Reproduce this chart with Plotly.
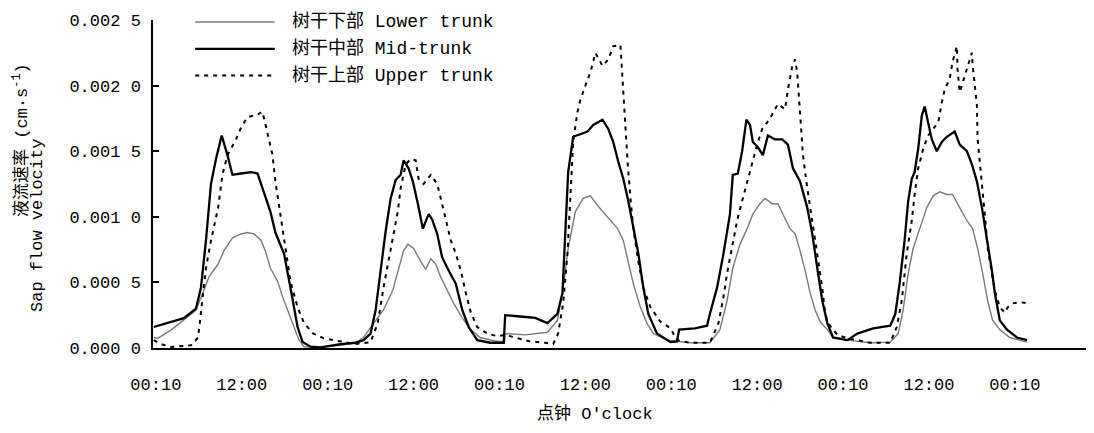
import plotly.graph_objects as go

# ---- data (time in hours from first 00:10; sap flow velocity in cm/s) ----
series_names = ["树干下部 Lower trunk", "树干中部 Mid-trunk", "树干上部 Upper trunk"]

lower_t = [-0.3, 0.3, 2.1, 3.9, 5.6, 6.7, 7.4, 8.7, 9.5, 10.7, 11.9, 12.8, 13.7, 14.7, 15.3, 16.0, 17.0, 17.7, 18.6, 19.3,
           20.0, 20.7, 23.0, 25.8, 27.9,
           29.0, 30.4, 31.8, 33.1, 33.9, 34.6, 35.2, 36.0, 37.0, 37.7, 38.4, 39.1, 39.8, 40.7, 41.6, 42.8, 44.0, 45.3, 47.7, 48.7,
           48.8, 51.6, 53.7, 54.7,
           56.1, 56.9, 57.6, 58.6, 59.7, 60.7, 61.8, 63.2, 64.5, 65.3, 66.0, 66.7, 67.7, 68.6, 69.5, 71.4, 74.6, 77.4,
           78.8, 79.8, 80.6, 81.6, 82.6, 83.4, 84.4, 85.1, 86.1, 86.9, 87.6, 88.6, 89.3, 90.0, 90.7, 91.4, 92.1, 92.8, 93.8, 94.6,
           96.6, 99.8, 102.6,
           103.7, 104.4, 105.1, 105.8, 106.7, 107.7, 108.6, 109.5, 110.5, 111.3, 112.3, 113.3, 114.1, 114.8, 115.5, 116.2, 116.9,
           117.9, 119.3, 121.7]
lower_v = [0.8e-4, 0.75e-4, 1.36e-4, 2.1e-4, 2.87e-4, 4.4e-4, 5.4e-4, 6.4e-4, 7.4e-4, 8.4e-4, 8.7e-4, 8.8e-4, 8.7e-4, 8.2e-4,
           7.4e-4, 6.1e-4, 5.1e-4, 3.9e-4, 2.6e-4, 1.6e-4, 0.6e-4, 0.1e-4, 0.05e-4, 0.2e-4, 0.4e-4,
           0.8e-4, 1.9e-4, 2.9e-4, 4.4e-4, 5.9e-4, 7.4e-4, 7.9e-4, 7.6e-4, 6.6e-4, 6.0e-4, 6.8e-4, 6.4e-4, 5.4e-4, 4.4e-4,
           3.4e-4, 2.3e-4, 1.4e-4, 0.8e-4, 0.5e-4, 0.5e-4, 1.1e-4, 1.0e-4, 1.1e-4, 1.2e-4,
           2.1e-4, 4.6e-4, 7.6e-4, 10.4e-4, 11.4e-4, 11.6e-4, 10.8e-4, 9.9e-4, 9.1e-4, 8.2e-4, 6.6e-4, 4.9e-4, 3.1e-4, 1.9e-4,
           1.1e-4, 0.6e-4, 0.4e-4, 0.4e-4,
           1.4e-4, 3.6e-4, 6.1e-4, 7.9e-4, 9.1e-4, 10.2e-4, 11.0e-4, 11.4e-4, 11.0e-4, 11.0e-4, 10.2e-4, 9.1e-4, 8.7e-4, 7.4e-4,
           5.9e-4, 4.2e-4, 2.9e-4, 2.0e-4, 1.4e-4, 0.8e-4, 0.6e-4, 0.4e-4, 0.45e-4,
           1.1e-4, 2.9e-4, 5.7e-4, 7.6e-4, 9.1e-4, 10.7e-4, 11.6e-4, 11.9e-4, 11.7e-4, 11.7e-4, 10.7e-4, 9.7e-4, 9.1e-4, 7.6e-4,
           5.7e-4, 3.6e-4, 2.1e-4, 1.4e-4, 0.8e-4, 0.45e-4]

mid_t = [-0.3, 2.1, 3.9, 5.6, 6.3, 7.0, 7.7, 8.4, 9.2, 10.0, 10.7, 11.9, 13.3, 14.2, 15.1, 16.0, 16.7, 17.9, 18.8, 19.8,
         20.5, 21.6, 23.0, 25.8, 27.9, 29.0,
         30.0, 30.7, 31.4, 32.1, 32.8, 33.5, 34.2, 34.6, 35.3, 35.9, 36.6, 37.3, 38.1, 38.6, 39.3, 40.0, 40.9, 41.9, 42.8, 43.7,
         44.9, 46.7, 48.6, 48.8, 50.9, 53.0, 54.7,
         56.1, 56.8, 57.2, 57.6, 58.3, 59.3, 60.3, 61.1, 62.4, 63.2, 63.9, 64.6, 65.3, 66.0, 66.7, 67.4, 68.1, 68.8, 70.0, 71.9,
         72.8, 73.1, 75.3, 77.0,
         77.4, 78.4, 79.3, 80.2, 80.6, 81.3, 81.9, 82.5, 83.0, 83.4, 84.1, 84.8, 85.5, 86.5, 87.5, 88.3, 89.0, 90.0, 91.0, 91.7,
         92.4, 93.1, 93.8, 94.6, 96.6, 98.0, 100.2, 102.6,
         103.3, 103.9, 104.6, 105.1, 105.6, 106.0, 106.5, 107.0, 107.4, 107.9, 108.4, 109.1, 109.8, 110.5, 111.6, 112.3, 113.3,
         114.0, 114.7, 115.4, 116.1, 116.8, 117.2, 117.9, 118.9, 120.3, 121.7]
mid_v = [1.6e-4, 1.96e-4, 2.27e-4, 3.0e-4, 4.6e-4, 8.2e-4, 12.5e-4, 14.4e-4, 16.2e-4, 14.7e-4, 13.2e-4, 13.3e-4, 13.4e-4,
         13.3e-4, 11.9e-4, 10.4e-4, 8.8e-4, 7.2e-4, 4.6e-4, 1.6e-4, 0.45e-4, 0.1e-4, 0.05e-4, 0.3e-4, 0.4e-4, 0.6e-4,
         1.1e-4, 2.9e-4, 5.9e-4, 8.9e-4, 11.4e-4, 12.8e-4, 13.2e-4, 14.3e-4, 13.7e-4, 12.7e-4, 11.0e-4, 9.1e-4, 10.2e-4,
         9.8e-4, 8.7e-4, 6.9e-4, 5.9e-4, 4.9e-4, 2.9e-4, 1.6e-4, 0.6e-4, 0.4e-4, 0.4e-4, 2.5e-4, 2.4e-4, 2.3e-4, 1.9e-4,
         2.6e-4, 4.2e-4, 8.4e-4, 13.4e-4, 16.1e-4, 16.3e-4, 16.5e-4, 17.0e-4, 17.4e-4, 16.7e-4, 15.7e-4, 14.2e-4, 12.9e-4,
         11.2e-4, 9.1e-4, 7.2e-4, 4.6e-4, 2.6e-4, 1.1e-4, 0.45e-4, 0.5e-4, 1.4e-4, 1.5e-4, 1.7e-4,
         2.6e-4, 4.6e-4, 7.2e-4, 10.2e-4, 13.2e-4, 13.3e-4, 15.0e-4, 17.4e-4, 17.0e-4, 15.7e-4, 15.3e-4, 14.7e-4, 16.2e-4,
         15.9e-4, 15.9e-4, 15.5e-4, 13.7e-4, 12.7e-4, 10.7e-4, 8.7e-4, 6.1e-4, 3.6e-4, 1.9e-4, 0.8e-4, 0.6e-4, 1.1e-4,
         1.5e-4, 1.7e-4,
         2.6e-4, 4.9e-4, 8.2e-4, 11.2e-4, 12.9e-4, 13.4e-4, 15.2e-4, 17.7e-4, 18.4e-4, 17.2e-4, 15.9e-4, 15.0e-4, 15.7e-4,
         16.1e-4, 16.5e-4, 15.5e-4, 15.0e-4, 14.0e-4, 12.7e-4, 10.7e-4, 8.4e-4, 5.9e-4, 4.2e-4, 2.1e-4, 1.4e-4, 0.8e-4,
         0.6e-4]

upper_t = [-0.3, 0.7, 2.1, 4.9, 5.9, 6.3, 7.0, 7.7, 8.7, 9.3, 10.0, 11.2, 11.9, 12.8, 14.2, 14.9, 15.3, 16.3, 16.7, 17.4,
           18.1, 18.8, 19.8, 20.7, 22.0, 23.4, 24.8, 26.2, 27.9,
           30.0, 31.0, 31.8, 32.8, 33.8, 34.2, 34.9, 35.6, 36.3, 36.7, 37.4, 38.4, 39.3, 39.8, 40.5, 41.2, 41.9, 42.6, 43.3,
           44.0, 44.9, 46.3, 47.7, 48.8, 50.2, 52.3, 54.4, 55.5,
           56.2, 56.9, 57.5, 57.9, 58.3, 58.9, 59.3, 60.0, 60.7, 61.4, 62.4, 63.2, 63.9, 64.9, 65.2, 65.6, 65.9, 66.3, 66.7,
           67.4, 68.1, 69.1, 70.5, 71.9, 72.8, 74.6, 77.4,
           78.6, 79.3, 79.8, 80.5, 81.2, 81.9, 82.6, 83.3, 84.0, 84.7, 85.4, 86.1, 86.9, 87.9, 88.3, 88.9, 89.3, 89.6, 90.0,
           90.4, 91.0, 91.7, 92.4, 93.1, 93.5, 93.9, 95.2, 96.6, 99.8, 102.6,
           103.5, 104.2, 104.9, 105.6, 106.0, 106.5, 107.2, 107.9, 108.6, 109.3, 109.8, 110.2, 110.9, 111.3, 111.9, 112.0,
           112.3, 112.7, 113.3, 114.0, 114.1, 114.7, 114.8, 115.4, 115.8, 116.2, 116.8, 117.2, 117.9, 118.6, 119.0, 119.7,
           120.7, 121.8]
upper_v = [0.6e-4, 0.3e-4, 0.08e-4, 0.2e-4, 0.8e-4, 2.6e-4, 6.1e-4, 8.2e-4, 10.7e-4, 13.2e-4, 14.7e-4, 15.9e-4, 16.8e-4,
           17.6e-4, 17.8e-4, 18.0e-4, 17.1e-4, 14.7e-4, 12.7e-4, 10.2e-4, 7.4e-4, 5.1e-4, 3.1e-4, 1.9e-4, 1.1e-4, 0.75e-4,
           0.6e-4, 0.45e-4, 0.3e-4,
           0.45e-4, 1.9e-4, 4.6e-4, 7.4e-4, 10.4e-4, 12.2e-4, 14.0e-4, 14.4e-4, 14.3e-4, 12.9e-4, 12.5e-4, 13.2e-4, 12.5e-4,
           11.4e-4, 9.7e-4, 8.2e-4, 7.2e-4, 5.9e-4, 4.2e-4, 2.7e-4, 1.6e-4, 1.1e-4, 0.9e-4, 1.0e-4, 0.8e-4, 0.5e-4, 0.4e-4,
           0.3e-4,
           1.1e-4, 3.4e-4, 7.2e-4, 11.7e-4, 15.7e-4, 18.0e-4, 18.9e-4, 20.0e-4, 21.0e-4, 22.5e-4, 21.5e-4, 22.0e-4, 23.0e-4,
           23.1e-4, 20.2e-4, 17.2e-4, 14.2e-4, 11.4e-4, 9.1e-4, 6.6e-4, 4.6e-4, 3.1e-4, 2.0e-4, 1.5e-4, 0.6e-4, 0.4e-4,
           0.4e-4,
           1.9e-4, 3.9e-4, 5.7e-4, 7.6e-4, 9.7e-4, 11.2e-4, 12.7e-4, 14.2e-4, 15.5e-4, 16.7e-4, 17.2e-4, 17.8e-4, 18.6e-4,
           18.2e-4, 19.7e-4, 21.5e-4, 22.0e-4, 21.0e-4, 17.7e-4, 14.7e-4, 12.2e-4, 9.7e-4, 7.2e-4, 4.6e-4, 2.6e-4, 1.9e-4,
           1.0e-4, 0.75e-4, 0.4e-4, 0.4e-4,
           1.6e-4, 3.6e-4, 7.2e-4, 9.7e-4, 11.7e-4, 13.7e-4, 15.2e-4, 16.2e-4, 16.7e-4, 17.2e-4, 18.7e-4, 19.7e-4, 20.5e-4,
           21.8e-4, 23.0e-4, 21.2e-4, 19.5e-4, 20.2e-4, 21.2e-4, 22.5e-4, 21.6e-4, 18.5e-4, 15.9e-4, 12.7e-4, 10.2e-4,
           7.6e-4, 5.7e-4, 4.4e-4, 3.1e-4, 2.7e-4, 3.1e-4, 3.4e-4, 3.5e-4, 3.4e-4]

x_tickvals = [0, 12, 24, 36, 48, 60, 72, 84, 96, 108, 120]
x_ticktext = ["00:10", "12:00", "00:10", "12:00", "00:10", "12:00", "00:10", "12:00", "00:10", "12:00", "00:10"]
y_tickvals = [0, 0.0005, 0.0010, 0.0015, 0.0020, 0.0025]
y_ticktext = ["0.000 0", "0.000 5", "0.001 0", "0.001 5", "0.002 0", "0.002 5"]

MONO = "Liberation Mono, Noto Sans CJK SC, monospace"

styles = [
    dict(color="#7a7a7a", width=1.4, dash="solid"),
    dict(color="#000000", width=2.3, dash="solid"),
    dict(color="#000000", width=2.0, dash="4px,5px"),
]

fig = go.Figure()
for name, xs, ys, st in zip(series_names, [lower_t, mid_t, upper_t], [lower_v, mid_v, upper_v], styles):
    fig.add_trace(go.Scatter(x=xs, y=ys, mode="lines", name=name, line=st, showlegend=False))

# legend drawn with long line samples as in the reference
leg_y = [0.994, 0.912, 0.831]
for name, st, yy in zip(series_names, styles, leg_y):
    fig.add_shape(type="line", xref="paper", yref="paper", x0=0.045, x1=0.130, y0=yy, y1=yy,
                  line=dict(color=st["color"], width=st["width"], dash=st["dash"]))
    fig.add_annotation(xref="paper", yref="paper", x=0.146, y=yy, text=name, showarrow=False,
                       xanchor="left", yanchor="middle", font=dict(family=MONO, size=18, color="black"))

# axis titles
fig.add_annotation(xref="paper", yref="paper", x=-0.141, y=0.634, text="液流速率 (cm·s<sup>-1</sup>)",
                   textangle=-90, showarrow=False, xanchor="center", yanchor="middle",
                   font=dict(family=MONO, size=17, color="black"))
fig.add_annotation(xref="paper", yref="paper", x=-0.1227, y=0.372, text="Sap flow velocity",
                   textangle=-90, showarrow=False, xanchor="center", yanchor="middle",
                   font=dict(family=MONO, size=17, color="black"))
fig.add_annotation(xref="paper", yref="paper", x=0.472, y=-0.202, text="点钟 O'clock",
                   showarrow=False, xanchor="center", yanchor="middle",
                   font=dict(family=MONO, size=17, color="black"))

# page body has an 8px margin, so the figure is sized to fit the window
fig.update_layout(
    width=1086, height=425,
    margin=dict(l=145, r=4, t=9, b=85),
    paper_bgcolor="white", plot_bgcolor="white",
    font=dict(family=MONO, size=16, color="black"),
    showlegend=False,
)
fig.update_xaxes(range=[-0.4, 130.5], tickvals=x_tickvals, ticktext=x_ticktext, showgrid=False, zeroline=False,
                 showline=True, linecolor="black", linewidth=2, ticks="", ticklabelstandoff=20,
                 tickfont=dict(family=MONO, size=17, color="black"))
fig.update_yaxes(range=[0, 0.0025], tickvals=y_tickvals, ticktext=y_ticktext, showgrid=False, zeroline=False,
                 showline=True, linecolor="black", linewidth=1.5, ticks="inside", ticklen=6, tickwidth=1.5,
                 tickcolor="black", ticklabelstandoff=7, tickfont=dict(family=MONO, size=17, color="black"))

fig.write_html("out.html")
